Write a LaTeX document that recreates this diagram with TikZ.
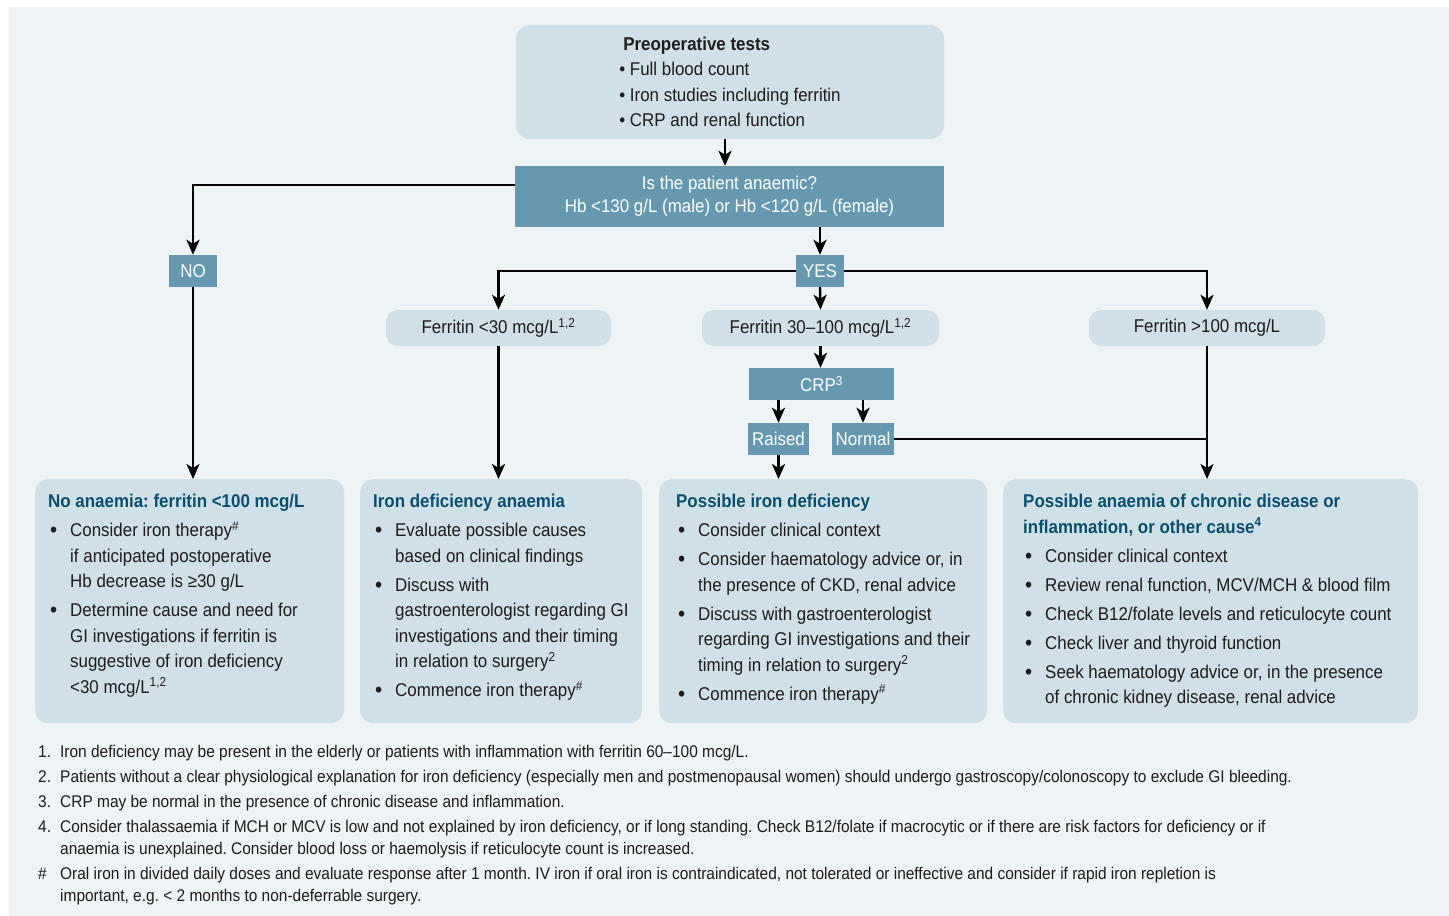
\documentclass[tikz,border=0pt]{standalone}
\usepackage{fontspec}
\setmainfont[FakeStretch=0.915]{Liberation Sans}
\usetikzlibrary{positioning,arrows.meta}

\definecolor{panelbg}{HTML}{EEF3F6}
\definecolor{boxlight}{HTML}{CFE0E8}
\definecolor{boxdark}{HTML}{6699AF}
\definecolor{headblue}{HTML}{0B4F6C}
\definecolor{inkgrey}{HTML}{1E1C1D}

\frenchspacing
\newcommand{\bigdot}{\raisebox{-0.12ex}{\scalebox{1.2}{\textbullet}}}
\newcommand{\bl}{\makebox[22pt][l]{\hspace{2pt}\bigdot}}
\newcommand{\hang}{\hspace*{22pt}}
\newcommand{\fn}[1]{\makebox[22pt][l]{#1}}
\newcommand{\head}[1]{\textbf{\color{headblue}#1}}

\tikzset{
  lightbox/.style={fill=boxlight, rounded corners=13pt, text=inkgrey,
    font=\fontsize{18.5}{25.5}\selectfont},
  darkbox/.style={fill=boxdark, text=white, minimum height=32pt, inner sep=0pt,
    font=\fontsize{18.5}{23}\selectfont},
  pill/.style={lightbox, rounded corners=12pt, minimum height=36pt, inner sep=0pt},
  panel/.style={lightbox, anchor=north west, minimum height=244pt, inner sep=0pt},
  paneltext/.style={anchor=north west, inner sep=0pt, align=left, text=inkgrey,
    font=\fontsize{18.5}{25.5}\selectfont},
  arr/.style={-{Stealth[length=15pt,width=13pt,inset=4pt]}, line width=2.4pt},
  link/.style={line width=2.4pt}
}

\begin{document}
\begin{tikzpicture}[x=1pt, y=-1pt]
  \useasboundingbox (0,0) rectangle (1449,916);
  \fill[panelbg] (9,7) rectangle (1449,916);

  % tests and first question
  \node[lightbox, minimum width=428pt, minimum height=114pt, rounded corners=14pt, align=left]
    (preop) at (730,82) {\hspace*{4pt}\textbf{Preoperative tests}\\
      \textbullet\ Full blood count\\
      \textbullet\ Iron studies including ferritin\hspace*{8pt}\\
      \textbullet\ CRP and renal function};
  \node[darkbox, minimum width=429pt, minimum height=61pt, align=center] (anaemic) at (729.5,196.5)
    {Is the patient anaemic?\\Hb <130 g/L (male) or Hb <120 g/L (female)};

  \node[darkbox, minimum width=48pt] (no) at (193,271) {NO};
  \node[darkbox, minimum width=48pt] (yes) at (820,271) {YES};

  % ferritin levels
  \node[pill, minimum width=225pt] (flow) at (498.5,328) {Ferritin <30 mcg/L\textsuperscript{1,2}};
  \node[pill, minimum width=237pt] (fmid) at (820.5,328) {Ferritin 30--100 mcg/L\textsuperscript{1,2}};
  \node[pill, minimum width=236pt] (fhigh) at (1207,328) {Ferritin >100 mcg/L};

  \node[darkbox, minimum width=145pt] (crp) at (821.5,384) {CRP\textsuperscript{3}};
  \node[darkbox, minimum width=61pt] (raised) at (778.5,439) {Raised};
  \node[darkbox, minimum width=62pt] (normal) at (863,439) {Normal};

  % outcome panels
  \node[panel, minimum width=309pt] (noan) at (35,479) {};
  \node[paneltext] (noan text) at ([xshift=13pt,yshift=-15pt]noan.north west)
    {\head{No anaemia: ferritin <100 mcg/L}\\[3.5pt]
     \bl Consider iron therapy\textsuperscript{\#}\\
     \hang if anticipated postoperative\\
     \hang Hb decrease is ≥30 g/L\\[3.5pt]
     \bl Determine cause and need for\\
     \hang GI investigations if ferritin is\\
     \hang suggestive of iron deficiency\\
     \hang <30 mcg/L\textsuperscript{1,2}};

  \node[panel, minimum width=282pt] (ida) at (360,479) {};
  \node[paneltext] (ida text) at ([xshift=13pt,yshift=-15pt]ida.north west)
    {\head{Iron deficiency anaemia}\\[3.5pt]
     \bl Evaluate possible causes\\
     \hang based on clinical findings\\[3.5pt]
     \bl Discuss with\\
     \hang gastroenterologist regarding GI\\
     \hang investigations and their timing\\
     \hang in relation to surgery\textsuperscript{2}\\[3.5pt]
     \bl Commence iron therapy\textsuperscript{\#}};

  \node[panel, minimum width=328pt] (pid) at (659,479) {};
  \node[paneltext] (pid text) at ([xshift=17pt,yshift=-15pt]pid.north west)
    {\head{Possible iron deficiency}\\[3.5pt]
     \bl Consider clinical context\\[3.5pt]
     \bl Consider haematology advice or, in\\
     \hang the presence of CKD, renal advice\\[3.5pt]
     \bl Discuss with gastroenterologist\\
     \hang regarding GI investigations and their\\
     \hang timing in relation to surgery\textsuperscript{2}\\[3.5pt]
     \bl Commence iron therapy\textsuperscript{\#}};

  \node[panel, minimum width=415pt] (acd) at (1003,479) {};
  \node[paneltext] (acd text) at ([xshift=20pt,yshift=-15pt]acd.north west)
    {\head{Possible anaemia of chronic disease or}\\
     \head{inflammation, or other cause\textsuperscript{4}}\\[3.5pt]
     \bl Consider clinical context\\[3.5pt]
     \bl Review renal function, MCV/MCH \& blood film\\[3.5pt]
     \bl Check B12/folate levels and reticulocyte count\\[3.5pt]
     \bl Check liver and thyroid function\\[3.5pt]
     \bl Seek haematology advice or, in the presence\\
     \hang of chronic kidney disease, renal advice};

  % connectors
  \draw[arr] ([xshift=-5pt]preop.south) -- ([xshift=-5pt]preop.south |- anaemic.north);
  \draw[arr] ([yshift=11.5pt]anaemic.west) -| (no.north);
  \draw[arr] (no.south) -- (noan.north -| no.south);
  \draw[arr] (anaemic.south -| yes.north) -- (yes.north);
  \draw[arr] (yes.west) -| (flow.north);
  \draw[arr] (yes.east) -| (fhigh.north);
  \draw[arr] (yes.south) -- (fmid.north);
  \draw[arr] (flow.south) -- (flow.south |- ida.north);
  \draw[arr] (fmid.south) -- (fmid.south |- crp.north);
  \draw[arr] (crp.south -| raised.north) -- (raised.north);
  \draw[arr] (crp.south -| normal.north) -- (normal.north);
  \draw[arr] (raised.south) -- (raised.south |- pid.north);
  \draw[arr] (fhigh.south) -- (fhigh.south |- acd.north);
  \draw[link] (normal.east) -- (normal.east -| fhigh.south);

  % footnotes
  \node[anchor=north west, inner sep=0pt, align=left, text=inkgrey,
        font=\fontsize{16.9}{22}\selectfont] (notes) at (38,745)
    {\fn{1.}Iron deficiency may be present in the elderly or patients with inflammation with ferritin 60--100 mcg/L.\\[3pt]
     \fn{2.}Patients without a clear physiological explanation for iron deficiency (especially men and postmenopausal women) should undergo gastroscopy/colonoscopy to exclude GI bleeding.\\[3pt]
     \fn{3.}CRP may be normal in the presence of chronic disease and inflammation.\\[3pt]
     \fn{4.}Consider thalassaemia if MCH or MCV is low and not explained by iron deficiency, or if long standing. Check B12/folate if macrocytic or if there are risk factors for deficiency or if\\
     \hang anaemia is unexplained. Consider blood loss or haemolysis if reticulocyte count is increased.\\[3pt]
     \fn{\#}Oral iron in divided daily doses and evaluate response after 1 month. IV iron if oral iron is contraindicated, not tolerated or ineffective and consider if rapid iron repletion is\\
     \hang important, e.g. < 2 months to non-deferrable surgery.};
\end{tikzpicture}
\end{document}
